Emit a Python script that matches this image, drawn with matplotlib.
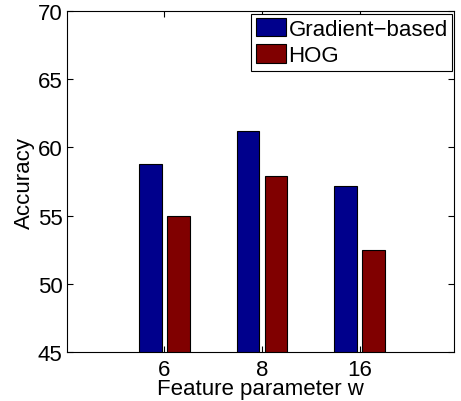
import matplotlib.pyplot as plt
import numpy as np

plt.rcParams['font.family'] = ['Liberation Sans', 'DejaVu Sans']

params = ['6', '8', '16']
gradient_based = [58.82, 61.18, 57.18]
hog = [54.95, 57.91, 52.5]

fig = plt.figure(figsize=(4.61, 4.02), dpi=100)
ax = fig.add_axes([66.7 / 461, 1 - 352.7 / 402, (454.3 - 66.7) / 461, (352.7 - 12.3) / 402])

x = np.arange(1, len(params) + 1)
w = 0.233
off = 0.143
ax.bar(x - off, gradient_based, w, color='#00008c', edgecolor='black',
       linewidth=0.8, label='Gradient\u2212based')
ax.bar(x + off, hog, w, color='#800000', edgecolor='black', linewidth=0.8, label='HOG')

ax.set_xlim(0, 3.97)
ax.set_ylim(45, 70)
ax.set_xticks(x)
ax.set_xticklabels(params)
ax.set_yticks([45, 50, 55, 60, 65, 70])
ax.tick_params(direction='in', top=True, right=True, labelsize=16, length=4)
ax.tick_params(axis='x', pad=5)
ax.tick_params(axis='y', pad=3)
for s in ax.spines.values():
    s.set_linewidth(0.8)

ax.set_xlabel('Feature parameter w', fontsize=16)
ax.xaxis.set_label_coords(0.5, -0.078)
ax.set_ylabel('Accuracy', fontsize=16, labelpad=2)

leg = ax.legend(loc='upper right', fontsize=16, fancybox=False, framealpha=1,
                edgecolor='black', borderaxespad=0.1, handlelength=1.35,
                handleheight=0.9, handletextpad=0.12, borderpad=0.2, labelspacing=0.2)
leg.get_frame().set_linewidth(0.8)

fig.savefig('out.png', dpi=100)
